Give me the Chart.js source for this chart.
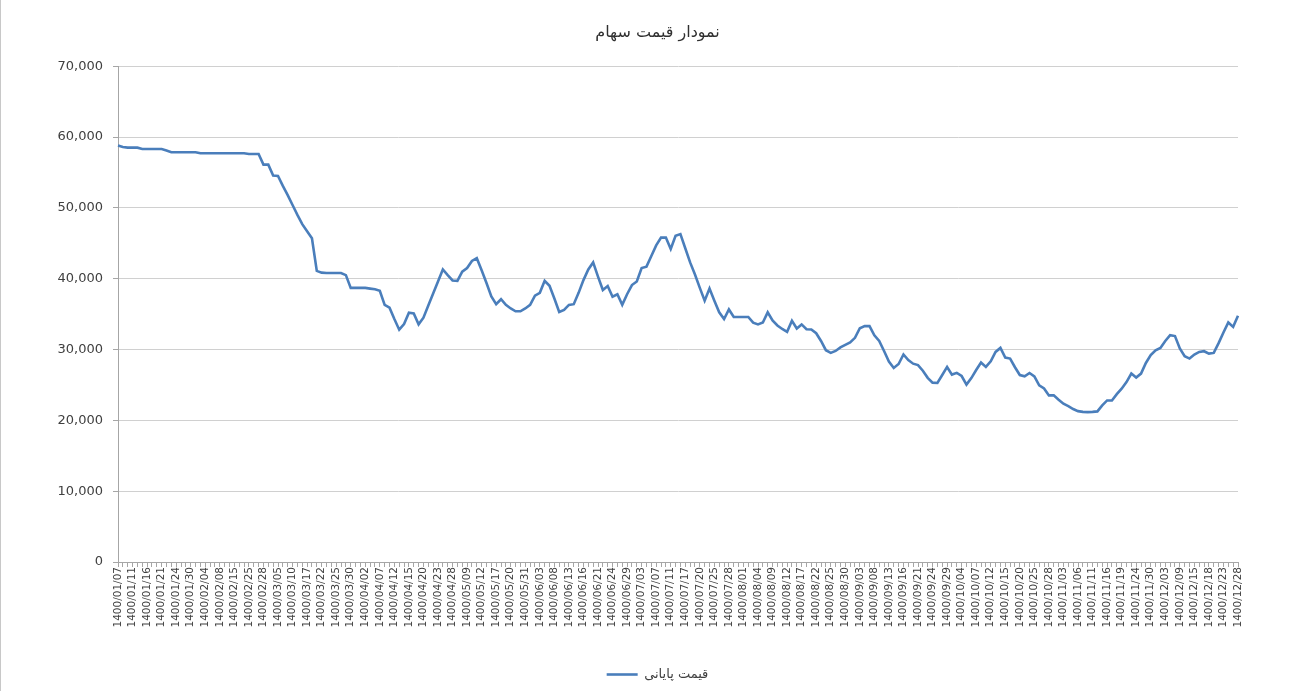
<!DOCTYPE html>
<html>
<head>
<meta charset="utf-8">
<title>نمودار قیمت سهام</title>
<script src="https://cdn.jsdelivr.net/npm/chart.js"></script>
<style>
    html, body { margin: 0; padding: 0; background: #fff; }
    #wrap { width: 1314px; height: 691px; box-sizing: border-box; border-left: 1px solid #c8c8c8; }
</style>
</head>
<body>
<div id="wrap"><canvas id="priceChart" width="1313" height="691"></canvas></div>
<script>
// تاریخ هایی که زیر محور افقی نوشته شده (هر سه روز یک برچسب)
var tickDates = [
    '1400/01/07', '1400/01/11', '1400/01/16', '1400/01/21', '1400/01/24', '1400/01/30',
    '1400/02/04', '1400/02/08', '1400/02/15', '1400/02/25', '1400/02/28',
    '1400/03/05', '1400/03/10', '1400/03/17', '1400/03/22', '1400/03/25', '1400/03/30',
    '1400/04/02', '1400/04/07', '1400/04/12', '1400/04/15', '1400/04/20', '1400/04/23', '1400/04/28',
    '1400/05/09', '1400/05/12', '1400/05/17', '1400/05/20', '1400/05/31',
    '1400/06/03', '1400/06/08', '1400/06/13', '1400/06/16', '1400/06/21', '1400/06/24', '1400/06/29',
    '1400/07/03', '1400/07/07', '1400/07/11', '1400/07/17', '1400/07/20', '1400/07/25', '1400/07/28',
    '1400/08/01', '1400/08/04', '1400/08/09', '1400/08/12', '1400/08/17', '1400/08/22', '1400/08/25', '1400/08/30',
    '1400/09/03', '1400/09/08', '1400/09/13', '1400/09/16', '1400/09/21', '1400/09/24', '1400/09/29',
    '1400/10/04', '1400/10/07', '1400/10/12', '1400/10/15', '1400/10/20', '1400/10/25', '1400/10/28',
    '1400/11/03', '1400/11/06', '1400/11/11', '1400/11/16', '1400/11/19', '1400/11/24', '1400/11/30',
    '1400/12/03', '1400/12/09', '1400/12/15', '1400/12/18', '1400/12/23', '1400/12/28'
];

// قیمت پایانی هر روز معاملاتی
var closePrices = [
    58800, 58600, 58500, 58500, 58500, 58300, 58300, 58300, 58300, 58300,
    58100, 57850, 57850, 57850, 57850, 57850, 57850, 57700, 57700, 57700,
    57700, 57700, 57700, 57700, 57700, 57700, 57700, 57600, 57600, 57600,
    56100, 56100, 54550, 54500, 53100, 51800, 50400, 49000, 47700, 46700,
    45700, 41100, 40850, 40800, 40800, 40800, 40800, 40500, 38700, 38700,
    38700, 38700, 38600, 38500, 38300, 36300, 35900, 34300, 32800, 33600,
    35200, 35100, 33550, 34500, 36200, 37900, 39600, 41300, 40500, 39750,
    39700, 41000, 41500, 42500, 42900, 41200, 39400, 37500, 36400, 37100,
    36300, 35800, 35400, 35400, 35800, 36300, 37600, 38000, 39700, 39000,
    37200, 35300, 35600, 36300, 36400, 38000, 39800, 41300, 42300, 40300,
    38400, 38970, 37450, 37800, 36300, 37800, 39100, 39600, 41500, 41700,
    43200, 44700, 45800, 45800, 44200, 46050, 46300, 44300, 42300, 40600,
    38700, 36900, 38600, 36900, 35250, 34300, 35660, 34600, 34600, 34600,
    34600, 33800, 33540, 33820, 35250, 34100, 33400, 32900, 32500, 34050,
    32970, 33540, 32870, 32830, 32300, 31200, 29900, 29520, 29800, 30300,
    30650, 31000, 31650, 33000, 33300, 33300, 32000, 31200, 29800, 28300,
    27400, 27950, 29300, 28500, 28000, 27800, 27000, 26000, 25320, 25270,
    26400, 27540, 26460, 26700, 26260, 25040, 25970, 27100, 28160, 27540,
    28340, 29660, 30230, 28860, 28720, 27500, 26400, 26210, 26680, 26200,
    24940, 24500, 23520, 23520, 22900, 22340, 22010, 21600, 21300, 21200,
    21160, 21200, 21260, 22100, 22810, 22810, 23700, 24470, 25410, 26600,
    26040, 26600, 28100, 29200, 29900, 30230, 31200, 32020, 31900, 30140,
    29050, 28720, 29290, 29660, 29760, 29430, 29520, 30900, 32400, 33820,
    33200, 34760
];

var yTicks = [0, 10000, 20000, 30000, 40000, 50000, 60000, 70000];

var seriesName = 'قیمت پایانی';
var chartTitle = 'نمودار قیمت سهام';

// برچسب هر نقطه: فقط هر سومین نقطه تاریخ دارد
var labels = [];
for (var i = 0; i < closePrices.length; i++) {
    labels.push(i % 3 === 0 ? tickDates[i / 3] : '');
}

var fontFamily = "Tahoma, 'DejaVu Sans', 'Liberation Sans', sans-serif";
var textColor = '#404040';
var axisColor = '#a6a6a6';

var ctx = document.getElementById('priceChart').getContext('2d');
var myChart = new Chart(ctx, {
    type: 'line',
    data: {
        labels: labels,
        datasets: [{
            label: seriesName,
            data: closePrices,
            borderColor: '#4a7ebb',
            backgroundColor: '#4a7ebb',
            borderWidth: 2.6,
            pointRadius: 0,
            pointHoverRadius: 0,
            tension: 0,
            fill: false
        }]
    },
    options: {
        responsive: false,
        animation: false,
        layout: {
            padding: { left: 0, right: 0, top: 0, bottom: 0 }
        },
        plugins: {
            title: {
                display: true,
                text: chartTitle,
                color: '#303030',
                font: { family: fontFamily, size: 16, weight: 'normal' },
                padding: { top: 23, bottom: 24 }
            },
            legend: {
                display: true,
                position: 'bottom',
                labels: {
                    color: textColor,
                    font: { family: fontFamily, size: 13 },
                    usePointStyle: true,
                    pointStyle: 'line',
                    pointStyleWidth: 31,
                    padding: 10
                }
            },
            tooltip: { enabled: false }
        },
        scales: {
            x: {
                offset: false,
                grid: {
                    drawOnChartArea: false,
                    drawTicks: true,
                    tickLength: 5,
                    tickColor: axisColor
                },
                border: { color: axisColor, width: 1 },
                ticks: {
                    autoSkip: false,
                    minRotation: 90,
                    maxRotation: 90,
                    padding: 0,
                    color: textColor,
                    font: { family: fontFamily, size: 10.5 }
                },
                afterFit: function(scale) {
                    scale.height = 96;
                }
            },
            y: {
                min: 0,
                max: 70000,
                afterBuildTicks: function(scale) {
                    scale.ticks = yTicks.map(function(v) { return { value: v }; });
                },
                grid: {
                    color: '#d0d0d0',
                    tickColor: axisColor,
                    tickLength: 5,
                    lineWidth: 1
                },
                border: { color: axisColor, width: 1 },
                ticks: {
                    padding: 10,
                    color: textColor,
                    font: { family: fontFamily, size: 13 },
                    callback: function(value) {
                        return value.toLocaleString('en-US');
                    }
                },
                afterFit: function(scale) {
                    scale.width = 117;
                }
            },
            // محور خالی سمت راست فقط برای فاصله، تا عنوان و راهنما وسط کل تصویر بیایند
            yRight: {
                position: 'right',
                display: true,
                grid: { display: false, drawTicks: false },
                border: { display: false },
                ticks: { display: false },
                afterFit: function(scale) {
                    scale.width = 76;
                }
            }
        }
    }
});
</script>
</body>
</html>
